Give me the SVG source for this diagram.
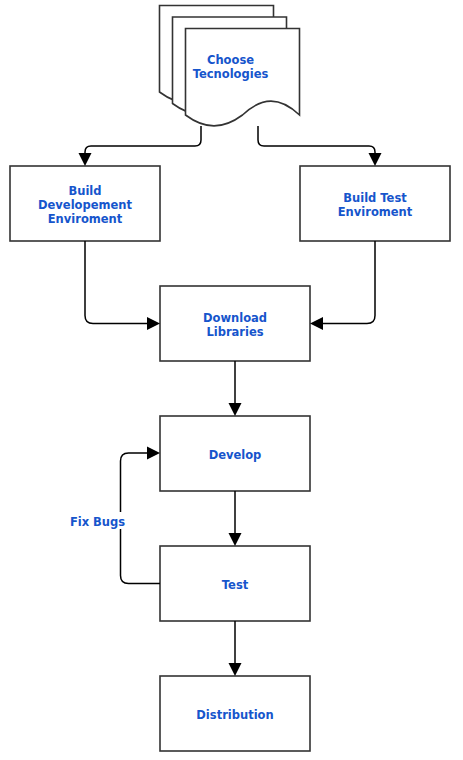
<svg xmlns="http://www.w3.org/2000/svg" width="463" height="760" viewBox="0 0 463 760">
<style>
.box{fill:#ffffff;stroke:#333333;stroke-width:1.6}
.edge{fill:none;stroke:#000000;stroke-width:1.5}
.lbl{font-family:"DejaVu Sans",Verdana,sans-serif;font-weight:bold;font-size:11.5px;fill:#1655cc;text-anchor:middle}
</style>
<defs>
<marker id="arr" markerUnits="userSpaceOnUse" markerWidth="14" markerHeight="14" refX="0" refY="6.5" orient="auto" overflow="visible">
<path d="M0,0 L13,6.5 L0,13 Z" fill="#000000"/>
</marker>
<path id="doc" d="M0,0 H114 V86.5 C94.5,68 76.5,68 57,86.5 C37.5,101 19.5,101 0,86.5 Z"/>
</defs>
<rect width="463" height="760" fill="#ffffff"/>
<g id="choose-tecnologies">
<use href="#doc" x="159.5" y="5.5" class="box"/>
<use href="#doc" x="172.5" y="17" class="box"/>
<use href="#doc" x="185.5" y="28.5" class="box"/>
<text class="lbl" x="230.5" y="64">Choose</text>
<text class="lbl" x="230.5" y="77.5">Tecnologies</text>
</g>
<g id="build-dev-env">
<rect class="box" x="10" y="166" width="150" height="75"/>
<text class="lbl" x="85" y="194.5">Build</text>
<text class="lbl" x="85" y="208.5">Developement</text>
<text class="lbl" x="85" y="222.5">Enviroment</text>
</g>
<g id="build-test-env">
<rect class="box" x="300" y="166" width="150" height="75"/>
<text class="lbl" x="375" y="201.5">Build Test</text>
<text class="lbl" x="375" y="215.5">Enviroment</text>
</g>
<g id="download-libraries">
<rect class="box" x="160" y="286" width="150" height="75"/>
<text class="lbl" x="235" y="321.5">Download</text>
<text class="lbl" x="235" y="335.5">Libraries</text>
</g>
<g id="develop">
<rect class="box" x="160" y="416" width="150" height="75"/>
<text class="lbl" x="235" y="458.5">Develop</text>
</g>
<g id="test">
<rect class="box" x="160" y="546" width="150" height="75"/>
<text class="lbl" x="235" y="588.5">Test</text>
</g>
<g id="distribution">
<rect class="box" x="160" y="676" width="150" height="75"/>
<text class="lbl" x="235" y="718.5">Distribution</text>
</g>
<g id="connectors">
<path class="edge" d="M201,126 V140 Q201,146 195,146 H91 Q85,146 85,152 V153" marker-end="url(#arr)"/>
<path class="edge" d="M258,126 V140 Q258,146 264,146 H369 Q375,146 375,152 V153" marker-end="url(#arr)"/>
<path class="edge" d="M85,241 V315.5 Q85,323.5 93,323.5 H147" marker-end="url(#arr)"/>
<path class="edge" d="M375,241 V315.5 Q375,323.5 367,323.5 H323" marker-end="url(#arr)"/>
<path class="edge" d="M235,361 V403" marker-end="url(#arr)"/>
<path class="edge" d="M235,491 V533" marker-end="url(#arr)"/>
<path class="edge" d="M235,621 V663" marker-end="url(#arr)"/>
<path class="edge" d="M160,583.5 H128.5 Q120.5,583.5 120.5,575.5 V461 Q120.5,453 128.5,453 H147" marker-end="url(#arr)"/>
<rect x="68" y="512" width="59" height="17" fill="#ffffff"/>
<text class="lbl" x="97.5" y="526">Fix Bugs</text>
</g>
</svg>
